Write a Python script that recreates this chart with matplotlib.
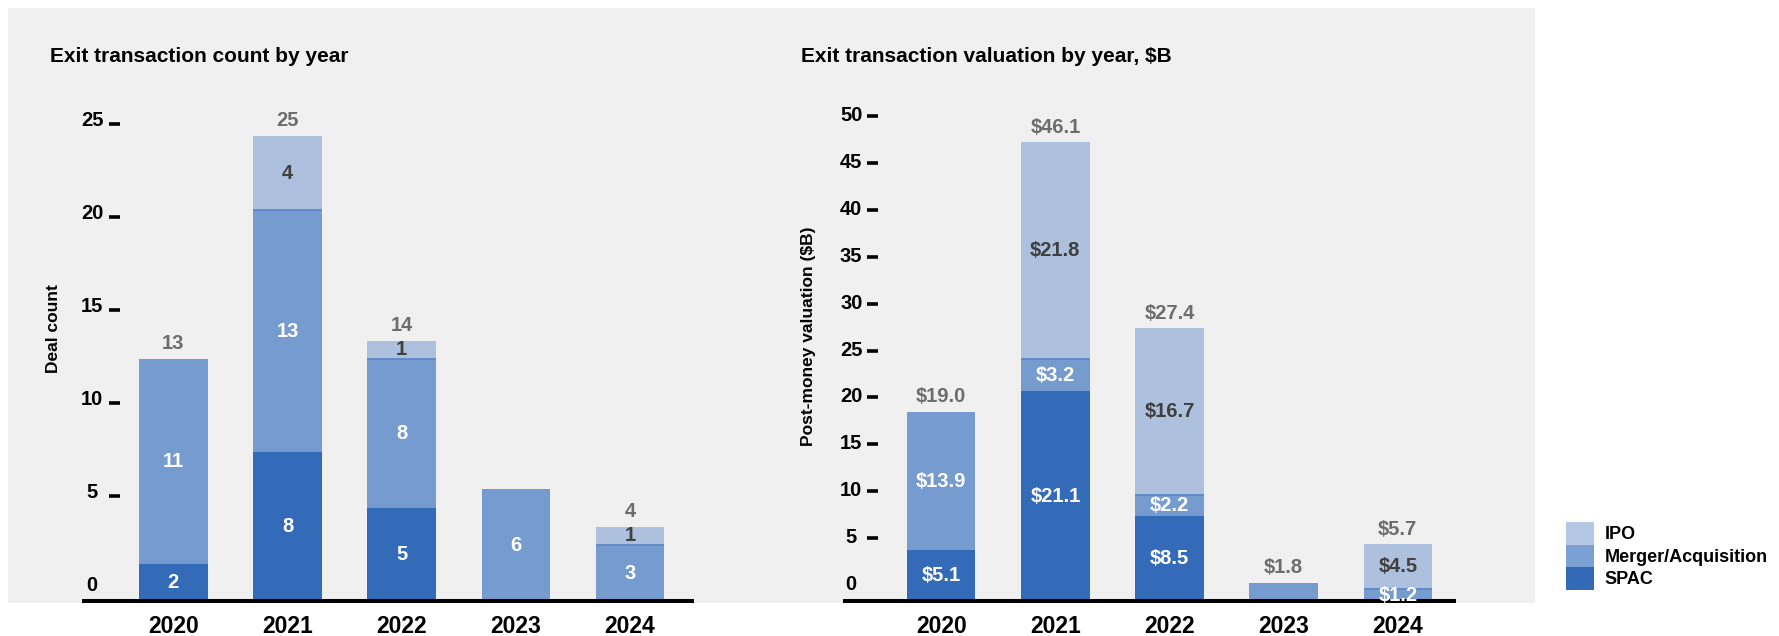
import matplotlib.pyplot as plt
import numpy as np
from matplotlib.patches import Patch, Rectangle
from matplotlib.transforms import ScaledTranslation

plt.rcParams['font.family'] = ['Liberation Sans', 'DejaVu Sans']
plt.rcParams['font.weight'] = 'bold'
plt.rcParams['axes.labelweight'] = 'bold'

# ----- DATA -----
years = ["2020", "2021", "2022", "2023", "2024"]

# deal counts
count_spac = [2, 8, 5, 0, 0]
count_ma = [11, 13, 8, 6, 3]
count_ipo = [0, 4, 1, 0, 1]
count_totals = [13, 25, 14, 6, 4]
count_total_shown = [True, True, True, False, True]
count_inner_shown = [True, True, True, True, True]
count_ticks = [0, 5, 10, 15, 20, 25]

# post-money valuation, $B
val_spac = [5.1, 21.1, 8.5, 0.0, 0.0]
val_ma = [13.9, 3.2, 2.2, 1.8, 1.2]
val_ipo = [0.0, 21.8, 16.7, 0.0, 4.5]
val_totals = [19.0, 46.1, 27.4, 1.8, 5.7]
val_total_shown = [True, True, True, True, True]
val_inner_shown = [True, True, True, False, True]
val_ticks = [0, 5, 10, 15, 20, 25, 30, 35, 40, 45, 50]

# ----- Colors -----
C_SPAC = "#336BB8"
C_MA = "#769BCE"
C_IPO = "#ADC1DE"
C_EDGE = "#5D88C8"
C_TOTAL = "#6D6D6D"
C_DARK = "#3F3F3F"
C_BG = "#F0F0F0"

W, H = 1779, 636
fig = plt.figure(figsize=(W / 100, H / 100), dpi=100)
fig.patch.set_facecolor("white")

# grey panel behind both charts
fig.add_artist(Rectangle((8 / W, 1 - 603 / H), (1535 - 8) / W, (603 - 8) / H,
                         transform=fig.transFigure, facecolor=C_BG,
                         edgecolor="none", zorder=-1))


def px_axes(x0, x1, y0=90, y1=601):
    return fig.add_axes([x0 / W, 1 - y1 / H, (x1 - x0) / W, (y1 - y0) / H])


def draw_panel(ax, spac, ma, ipo, totals, fmt, total_shown, inner_shown,
               ticks, tick_pos, ylim, xlim, spine_x, tick_pad, ylabel,
               ylabel_xy, label_shift):
    x = np.arange(len(years))
    w = 0.6
    spac = np.array(spac)
    ma = np.array(ma)
    ipo = np.array(ipo)

    ax.bar(x, spac, w, color=C_SPAC, linewidth=0)
    ax.bar(x, ma, w, bottom=spac, color=C_MA, linewidth=0)
    ax.bar(x, ipo, w, bottom=spac + ma, color=C_IPO, linewidth=0)

    # thin line where IPO sits on top of M&A
    for i in range(len(x)):
        if ipo[i] > 0 and ma[i] > 0:
            ax.plot([x[i] - w / 2, x[i] + w / 2], [spac[i] + ma[i]] * 2,
                    color=C_EDGE, lw=1.3, solid_capstyle="butt", zorder=2)

    # segment labels
    for i in range(len(x)):
        if not inner_shown[i]:
            continue
        if spac[i] > 0:
            ax.text(x[i], spac[i] / 2, fmt(spac[i]), ha="center", va="center",
                    color="white", fontsize=14.5, zorder=4)
        if ma[i] > 0:
            ax.text(x[i], spac[i] + ma[i] / 2, fmt(ma[i]), ha="center",
                    va="center", color="white", fontsize=14.5, zorder=4)
        if ipo[i] > 0:
            ax.text(x[i], spac[i] + ma[i] + ipo[i] / 2, fmt(ipo[i]),
                    ha="center", va="center", color=C_DARK, fontsize=14.5,
                    zorder=4)

    # totals above the bars
    for i in range(len(x)):
        if total_shown[i]:
            top = spac[i] + ma[i] + ipo[i]
            ax.annotate(fmt(totals[i]), (x[i], top), xytext=(0, 11),
                        textcoords="offset points", ha="center", va="center",
                        color=C_TOTAL, fontsize=14.5)

    ax.set_xlim(*xlim)
    ax.set_ylim(*ylim)
    ax.set_facecolor("none")

    for s in ["top", "right"]:
        ax.spines[s].set_visible(False)
    ax.spines["left"].set_position(("data", spine_x))
    ax.spines["left"].set_visible(False)
    ax.spines["bottom"].set_linewidth(2.9)
    ax.spines["bottom"].set_color("black")
    ax.spines["bottom"].set_capstyle("butt")

    ax.set_xticks(x, years)
    ax.tick_params(axis="x", length=0, pad=10, labelsize=16.5)

    ax.set_yticks(tick_pos, [str(t) for t in ticks])
    ax.tick_params(axis="y", direction="out", length=8, width=2.6,
                   pad=tick_pad, labelsize=14.5, colors="black")
    ax.yaxis.get_major_ticks()[0].tick1line.set_visible(False)
    shift = ScaledTranslation(0, label_shift / 100, fig.dpi_scale_trans)
    for lab in ax.get_yticklabels():
        lab.set_ha("center")
        lab.set_transform(lab.get_transform() + shift)

    ax.set_ylabel(ylabel, fontsize=12.5, fontweight="bold")
    ax.yaxis.label.set_va("center")
    ax.yaxis.set_label_coords(*ylabel_xy)


# ----- Left: counts -----
axL = px_axes(82, 694)
# source tick marks sit a bit above the bar scale; keep that look
count_pos = [t + 0.65 for t in count_ticks]
draw_panel(axL, count_spac, count_ma, count_ipo, count_totals,
           lambda v: f"{v:.0f}", count_total_shown, count_inner_shown,
           count_ticks, count_pos, (0, 511 / 18.6), (-0.80, 4.56), -0.464,
           12.2, "Deal count", ((53 - 82) / 612, (601 - 329) / 511), 5)

# ----- Right: valuation -----
axR = px_axes(843, 1456)
val_pos = [1.62 + 0.942 * t for t in val_ticks]
draw_panel(axR, val_spac, val_ma, val_ipo, val_totals,
           lambda v: f"${v:.1f}", val_total_shown, val_inner_shown,
           val_ticks, val_pos, (0, 511 / 9.95), (-0.86, 4.51), -0.551,
           11.5, "Post-money valuation ($B)",
           ((808 - 843) / 613, (601 - 336) / 511), 2.5)

# ----- Titles -----
fig.text(50 / W, 1 - 56 / H, "Exit transaction count by year", fontsize=15,
         ha="left", va="center")
fig.text(801 / W, 1 - 56 / H, "Exit transaction valuation by year, $B",
         fontsize=15, ha="left", va="center")

# ----- Legend -----
handles = [Patch(facecolor="#B4C8E6", label="IPO"),
           Patch(facecolor="#7BA0D3", label="Merger/Acquisition"),
           Patch(facecolor="#3369B6", label="SPAC")]
fig.legend(handles=handles, loc="upper left",
           bbox_to_anchor=(1566 / W, 1 - 522 / H), frameon=False,
           fontsize=13, handlelength=1.55, handleheight=1.55,
           handletextpad=0.6, labelspacing=0, borderpad=0, borderaxespad=0)

plt.savefig("out.png", dpi=100)
